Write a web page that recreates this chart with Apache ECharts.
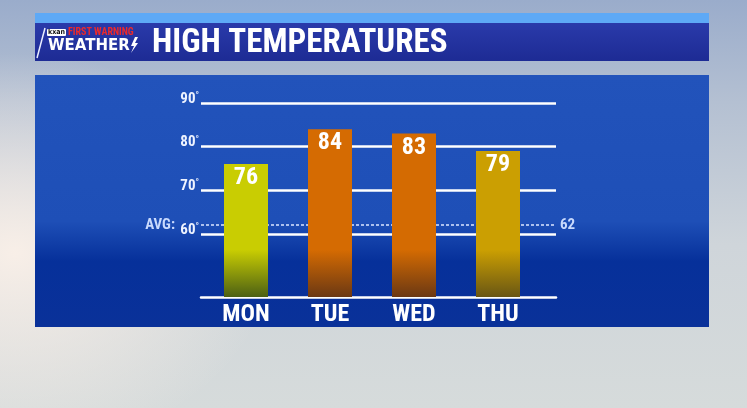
<!DOCTYPE html>
<html>
<head>
<meta charset="utf-8">
<script src="https://cdn.jsdelivr.net/npm/echarts@6/dist/echarts.min.js"></script>
<style>
  html, body { margin: 0; padding: 0; }
  body {
    width: 747px; height: 408px; overflow: hidden;
    background:
      radial-gradient(ellipse 260px 200px at 2% 62%, rgba(250,240,232,0.95) 0%, rgba(245,238,232,0) 100%),
      linear-gradient(180deg, #9aaccb 0%, #b4c0d2 25%, #cfd5da 60%, #d6dbdb 100%);
  }
  #main { width: 747px; height: 408px; }
</style>
</head>
<body>
<div id="main"></div>
<script>
// data
const days = ['MON', 'TUE', 'WED', 'THU']
const highs = [76, 84, 83, 79]
const gridTicks = [60, 70, 80, 90]
const avgHigh = 62
const yMin = 45.5
const yMax = 90

// bar colours (top / faded bottom)
const barTop = ['#c9cd02', '#d56b02', '#d46b02', '#cb9f02']
const barBottom = ['#4c6014', '#6b3813', '#6b3813', '#695614']

const FONT = "'Roboto Condensed', sans-serif"

const chart = echarts.init(document.getElementById('main'))

function barColor(i) {
  return {
    type: 'linear', x: 0, y: 250, x2: 0, y2: 297, global: true,
    colorStops: [
      { offset: 0, color: barTop[i] },
      { offset: 1, color: barBottom[i] },
    ],
  }
}

// gridlines drawn as mark lines so the labels sit at the start
const lines = gridTicks.map((v) => ({
  yAxis: v,
  lineStyle: { color: '#ffffff', width: 2.5, type: 'solid' },
  label: {
    show: true,
    position: 'start',
    distance: 2,
    formatter: v + '{d|°}',
    color: '#eef3ff',
    fontFamily: FONT,
    fontWeight: 'bold',
    fontSize: 15,
    padding: [0, 0, 8, 0],
    rich: { d: { fontSize: 9, fontFamily: FONT, verticalAlign: 'top', color: '#eef3ff', padding: [0, 0, 4, 0] } },
  },
}))
lines.push({
  yAxis: avgHigh,
  lineStyle: { color: '#dbe6ff', width: 1.5, type: [3, 2] },
  label: {
    show: true, position: 'end', distance: 4, formatter: String(avgHigh),
    color: '#c9dafd', fontFamily: FONT, fontWeight: 'bold', fontSize: 15,
  },
})
lines.push({
  yAxis: avgHigh,
  lineStyle: { color: 'transparent', width: 1 },
  label: {
    show: true, position: 'start', distance: 26, formatter: 'AVG:',
    color: '#c9dafd', fontFamily: FONT, fontWeight: 'bold', fontSize: 15,
  },
})

const option = {
  backgroundColor: 'transparent',
  animation: false,
  title: {
    text: 'HIGH TEMPERATURES',
    left: 147,
    top: 22,
    textStyle: { color: '#ffffff', fontFamily: FONT, fontWeight: 'bold', fontSize: 33 },
  },
  graphic: [
    // main panel
    {
      type: 'rect', z: -10, silent: true,
      shape: { x: 35, y: 75, width: 674, height: 252 },
      style: {
        fill: new echarts.graphic.LinearGradient(0, 0, 0, 1, [
          { offset: 0, color: '#2253bb' },
          { offset: 0.58, color: '#1e4fb7' },
          { offset: 0.74, color: '#06309a' },
          { offset: 1, color: '#0a3199' },
        ]),
      },
    },
    // header strip and band
    { type: 'rect', z: -10, silent: true, shape: { x: 35, y: 13, width: 674, height: 11 }, style: { fill: '#5ea9f6' } },
    {
      type: 'rect', z: -10, silent: true,
      shape: { x: 35, y: 23, width: 674, height: 38 },
      style: {
        fill: new echarts.graphic.LinearGradient(0, 0, 0, 1, [
          { offset: 0, color: '#2a3aaa' },
          { offset: 1, color: '#1d2b94' },
        ]),
      },
    },
    // logo
    { type: 'polyline', z: -5, silent: true, shape: { points: [[37, 58], [45, 28]] }, style: { stroke: '#e8ecff', lineWidth: 1.5 } },
    { type: 'rect', z: -5, silent: true, shape: { x: 47, y: 29, width: 19, height: 7, r: 1 }, style: { fill: '#ffffff' } },
    { type: 'text', z: -4, silent: true, x: 56.5, y: 32.5, style: { text: 'kxan', fill: '#111111', font: "bold 7px 'DejaVu Sans Condensed', sans-serif", align: 'center', verticalAlign: 'middle' } },
    { type: 'text', z: -4, silent: true, x: 68, y: 32.5, style: { text: 'FIRST WARNING', fill: '#ec2a2a', font: "bold 10px " + FONT, align: 'left', verticalAlign: 'middle' } },
    { type: 'text', z: -4, silent: true, x: 48, y: 46, style: { text: 'WEATHER', fill: '#ffffff', font: "bold 15px 'DejaVu Sans', sans-serif", align: 'left', verticalAlign: 'middle' } },
    { type: 'polygon', z: -4, silent: true, shape: { points: [[135, 37], [131, 46], [134, 46], [131, 53], [138, 43], [135, 43], [138, 37]] }, style: { fill: '#ffffff' } },
  ],
  grid: [
    { left: 201, right: 191, top: 103, bottom: 111 },
    { left: 204, right: 207, top: 103, bottom: 111 },
  ],
  xAxis: [
    {
      type: 'category', gridIndex: 0, data: days,
      axisLine: { show: true, lineStyle: { color: '#ffffff', width: 2.5 } },
      axisTick: { show: false }, axisLabel: { show: false }, splitLine: { show: false },
    },
    {
      type: 'category', gridIndex: 1, data: days,
      axisLine: { show: false }, axisTick: { show: false }, splitLine: { show: false },
      axisLabel: { color: '#ffffff', fontFamily: FONT, fontWeight: 'bold', fontSize: 24, margin: 6 },
    },
  ],
  yAxis: [
    { type: 'value', gridIndex: 0, min: yMin, max: yMax, show: false, splitLine: { show: false } },
    { type: 'value', gridIndex: 1, min: yMin, max: yMax, show: false, splitLine: { show: false } },
  ],
  series: [
    {
      name: 'grid',
      type: 'line',
      xAxisIndex: 0, yAxisIndex: 0,
      data: [],
      silent: true,
      markLine: { z: 1, silent: true, symbol: 'none', animation: false, data: lines },
    },
    {
      name: 'High',
      type: 'bar',
      xAxisIndex: 1, yAxisIndex: 1,
      z: 10,
      barWidth: 44,
      data: highs.map((v, i) => ({ value: v, itemStyle: { color: barColor(i) } })),
      label: {
        show: true,
        position: 'insideTop',
        distance: 2,
        color: '#ffffff',
        fontFamily: FONT,
        fontWeight: 'bold',
        fontSize: 24,
      },
    },
  ],
}

chart.setOption(option)
</script>
</body>
</html>
